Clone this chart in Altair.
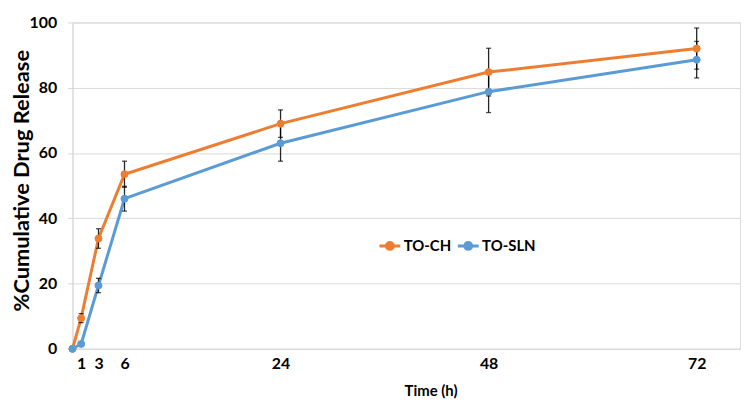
import altair as alt
import pandas as pd

times = [0, 1, 3, 6, 24, 48, 72]
ch_vals = [0, 9.4, 33.8, 53.5, 69.0, 84.8, 92.0]
ch_sd = [0, 1.4, 3.0, 4.0, 4.2, 7.3, 6.3]
sln_vals = [0, 1.5, 19.4, 46.0, 63.0, 78.8, 88.6]
sln_sd = [0, 0.3, 2.2, 3.8, 5.5, 6.4, 5.6]
series = ["TO-CH", "TO-SLN"]
colors = ["#ED7D31", "#5B9BD5"]
x_ticks = [1, 3, 6, 24, 48, 72]
y_ticks = [0, 20, 40, 60, 80, 100]

rows = []
for name, vals, sds in [(series[0], ch_vals, ch_sd), (series[1], sln_vals, sln_sd)]:
    for t, v, s in zip(times, vals, sds):
        rows.append({"time": t, "value": v, "lo": v - s, "hi": v + s, "sd": s, "series": name})
df = pd.DataFrame(rows)

FONT = "Lato"
GRID = "#d9d9d9"

xscale = alt.Scale(domain=[0, 77], nice=False, zero=True)
yscale = alt.Scale(domain=[0, 100], nice=False)

x_enc = alt.X("time:Q", scale=xscale, axis=alt.Axis(
    values=x_ticks, title="Time (h)", grid=False, ticks=False,
    domainColor=GRID, domainWidth=1, labelFont=FONT, labelFontSize=16,
    labelFontWeight="bold", labelColor="#000000", labelPadding=7,
    titleFont=FONT, titleFontSize=15, titleFontWeight="bold", titleColor="#000000",
    titleX=361, titleY=42, titleBaseline="middle", titleAlign="center"))
y_enc = alt.Y("value:Q", scale=yscale, axis=alt.Axis(
    values=y_ticks, title="%Cumulative Drug Release", grid=True, gridColor=GRID,
    gridWidth=1, ticks=True, tickSize=5, tickColor=GRID, domainColor=GRID,
    labelFont=FONT, labelFontSize=16, labelFontWeight="bold", labelColor="#000000",
    labelPadding=11, titleFont=FONT, titleFontSize=22, titleFontWeight="bold",
    titleColor="#000000", titleX=-51, titleY=159, titleBaseline="middle",
    titleAlign="center"))

leg = alt.Legend(
    title=None, orient="none", legendX=308, legendY=213, direction="horizontal",
    symbolType="M-1,0L1,0M-0.33,0a0.33,0.33 0 1,0 0.66,0a0.33,0.33 0 1,0 -0.66,0",
    symbolSize=441, symbolStrokeWidth=3, labelFont=FONT, labelFontSize=15,
    labelFontWeight="bold", labelColor="#000000", labelOffset=2, columnPadding=0)

cscale = alt.Scale(domain=series, range=colors)

base = alt.Chart(df)

lines = base.mark_line(strokeWidth=3).encode(
    x=x_enc, y=y_enc, stroke=alt.Stroke("series:N", scale=cscale, legend=leg))

err = base.transform_filter("datum.sd > 0")
rules = err.mark_rule(color="#000000", strokeWidth=1.3, opacity=0.85).encode(
    x="time:Q", y="lo:Q", y2="hi:Q")
cap_lo = err.mark_tick(orient="horizontal", color="#000000", size=5, thickness=1.3).encode(
    x="time:Q", y="lo:Q")
cap_hi = err.mark_tick(orient="horizontal", color="#000000", size=5, thickness=1.3).encode(
    x="time:Q", y="hi:Q")

points = base.mark_point(filled=True, size=50, opacity=1, strokeWidth=1).encode(
    x="time:Q", y="value:Q",
    fill=alt.Fill("series:N", scale=cscale, legend=leg),
    stroke=alt.Stroke("series:N", scale=cscale, legend=leg))

chart = alt.layer(lines, rules, cap_lo, cap_hi, points).properties(
    width=673, height=329,
    autosize=alt.AutoSizeParams(type="none"),
    padding={"left": 65, "top": 13, "right": 2, "bottom": 50},
).configure_view(stroke=None).configure(background="#ffffff")

chart.save("out.html", embed_options={"renderer": "svg", "actions": False})
